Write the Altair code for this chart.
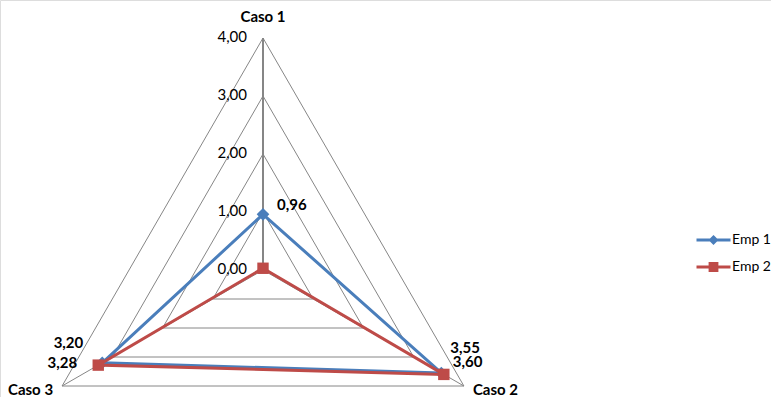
import altair as alt
import pandas as pd

# ---- data -------------------------------------------------------------
casos = ["Caso 1", "Caso 2", "Caso 3"]
series = ["Emp 1", "Emp 2"]
emp1 = [0.96, 3.55, 3.20]
emp2 = [0.03, 3.60, 3.28]
levels = [0, 1, 2, 3, 4]

# ---- styling ----------------------------------------------------------
colors = ["#4A7EBB", "#BE4B48"]
grid_color = "#868686"
FONT = "Lato"
FS = 15
W, H = 771, 397
CX, CY, UNIT = 263, 270, 58  # centre of the radar (px) and px per value unit

# data labels: (series, caso) -> (dx, dy, align)
label_style = {
    ("Emp 1", "Caso 1"): (14, -9, "left"),
    ("Emp 1", "Caso 2"): (9, -25, "left"),
    ("Emp 2", "Caso 2"): (9, -12, "left"),
    ("Emp 1", "Caso 3"): (-19, -20, "right"),
    ("Emp 2", "Caso 3"): (-21, -2, "right"),
}
# category labels: caso -> (dx, dy, align)
cat_style = {
    "Caso 1": (0, -21, "center"),
    "Caso 2": (9, 4, "left"),
    "Caso 3": (-9, 4, "right"),
}

# ---- tables -----------------------------------------------------------
rows = []
for s, vals in zip(series, [emp1, emp2]):
    for i, (c, v) in enumerate(zip(casos, vals)):
        rows.append({"series": s, "caso": c, "idx": i, "value": v, "order": i})
    rows.append({"series": s, "caso": casos[0], "idx": 0, "value": vals[0], "order": len(casos)})
pts = pd.DataFrame(rows)

grid_rows = []
for lv in levels[1:]:
    for k in range(len(casos) + 1):
        grid_rows.append({"level": lv, "idx": k % len(casos), "value": lv, "order": k})
grid = pd.DataFrame(grid_rows)

spokes = pd.DataFrame({"caso": casos, "idx": list(range(len(casos))), "value": [max(levels)] * len(casos)})
ticks = pd.DataFrame({"value": levels})

N = len(casos)
ANG = f"PI/2 - datum.idx*2*PI/{N}"
polar = dict(px=f"datum.value*cos({ANG})", py=f"datum.value*sin({ANG})")
fmt = "replace(format(datum.value, '.2f'), '.', ',')"

xs = alt.Scale(domain=[-CX / UNIT, (W - CX) / UNIT], nice=False, zero=False)
ys = alt.Scale(domain=[-(H - CY) / UNIT, CY / UNIT], nice=False, zero=False)
X = alt.X("px:Q", scale=xs, axis=None)
Y = alt.Y("py:Q", scale=ys, axis=None)
cscale = alt.Scale(domain=series, range=colors)

# ---- grid ------------------------------------------------------------
grid_layer = alt.Chart(grid).transform_calculate(**polar).mark_line(
    color=grid_color, strokeWidth=1
).encode(x=X, y=Y, detail="level:O", order="order:Q")

spoke_base = alt.Chart(spokes).transform_calculate(**polar, zx="0", zy="0")
ZX = alt.X("zx:Q", scale=xs, axis=None)
ZY = alt.Y("zy:Q", scale=ys, axis=None)
spoke_thin = spoke_base.transform_filter("datum.idx > 0").mark_rule(
    color=grid_color, strokeWidth=1
).encode(x=ZX, y=ZY, x2="px:Q", y2="py:Q")
spoke_axis = spoke_base.transform_filter("datum.idx == 0").mark_rule(
    color=grid_color, strokeWidth=2
).encode(x=ZX, y=ZY, x2="px:Q", y2="py:Q")

tick_labels = alt.Chart(ticks).transform_calculate(
    px="0", py="datum.value", label=fmt
).mark_text(align="right", baseline="middle", dx=-16, dy=-1, font=FONT, fontSize=FS, color="black").encode(
    x=X, y=Y, text="label:N"
)

cat_layers = []
for c, (dx, dy, al) in cat_style.items():
    cat_layers.append(
        alt.Chart(spokes).transform_filter(alt.datum.caso == c).transform_calculate(**polar).mark_text(
            align=al, baseline="middle", dx=dx, dy=dy, font=FONT, fontSize=FS, fontWeight="bold", color="black"
        ).encode(x=X, y=Y, text="caso:N")
    )

# ---- series ----------------------------------------------------------
shapes = {"Emp 1": ("diamond", 160), "Emp 2": ("square", 130)}
series_layers = []
for s, col in zip(series, colors):
    base = alt.Chart(pts).transform_filter(alt.datum.series == s).transform_calculate(**polar)
    line = base.mark_line(strokeWidth=3, color=col).encode(x=X, y=Y, order="order:Q")
    shp, sz = shapes[s]
    dots = base.transform_filter("datum.order < %d" % N).mark_point(
        shape=shp, size=sz, filled=True, opacity=1, color=col
    ).encode(x=X, y=Y)
    series_layers += [line, dots]

label_layers = []
for (s, c), (dx, dy, al) in label_style.items():
    label_layers.append(
        alt.Chart(pts).transform_filter((alt.datum.series == s) & (alt.datum.caso == c) & (alt.datum.order < N))
        .transform_calculate(**polar, label=fmt)
        .mark_text(align=al, baseline="middle", dx=dx, dy=dy, font=FONT, fontSize=FS, fontWeight="bold", color="black")
        .encode(x=X, y=Y, text="label:N")
    )

# ---- legend (line + marker symbols) -----------------------------------
diamond_sym = "M-1,0L1,0M0,-0.17L0.17,0L0,0.17L-0.17,0Z"
square_sym = "M-1,0L1,0M-0.2,-0.2L0.2,-0.2L0.2,0.2L-0.2,0.2ZM-0.1,-0.1L0.1,-0.1L0.1,0.1L-0.1,0.1Z"
leg = alt.Legend(
    title=None, orient="none", legendX=695, legendY=233, padding=0,
    symbolSize=1156, symbolStrokeWidth=3, symbolOpacity=1, clipHeight=14, rowPadding=13,
    labelFont=FONT, labelFontSize=14, labelOffset=0, labelColor="black", labelLimit=200,
)
legend_layer = alt.Chart(pts).transform_filter("false").transform_calculate(**polar).mark_point(
    filled=False, strokeWidth=3, opacity=1
).encode(
    x=X, y=Y,
    color=alt.Color("series:N", scale=cscale, legend=leg),
    shape=alt.Shape("series:N", scale=alt.Scale(domain=series, range=[diamond_sym, square_sym]), legend=leg),
)

chart = alt.layer(
    grid_layer, spoke_thin, spoke_axis, tick_labels, *cat_layers, *series_layers, *label_layers, legend_layer
).properties(
    width=W, height=H, padding=0, autosize=alt.AutoSizeParams(type="none")
).configure_view(stroke=None).configure(background="white")

chart.save("out.html", embed_options={"renderer": "svg", "actions": False})
